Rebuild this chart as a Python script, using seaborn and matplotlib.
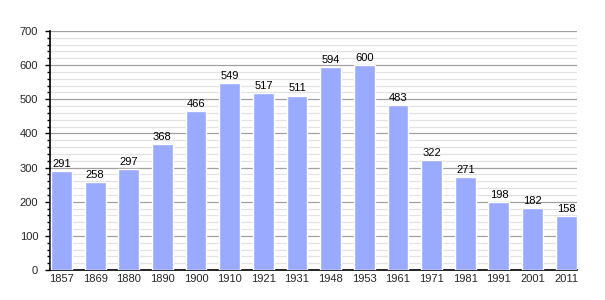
import matplotlib
matplotlib.use("Agg")
import matplotlib.pyplot as plt
import seaborn as sns
import pandas as pd
from matplotlib.ticker import MultipleLocator

years = ["1857", "1869", "1880", "1890", "1900", "1910", "1921", "1931",
         "1948", "1953", "1961", "1971", "1981", "1991", "2001", "2011"]
population = [291, 258, 297, 368, 466, 549, 517, 511,
              594, 600, 483, 322, 271, 198, 182, 158]

df = pd.DataFrame({"year": years, "pop": population})

sns.set_theme(style="white")
plt.rcParams['font.family'] = ['Liberation Sans', 'DejaVu Sans']

fig = plt.figure(figsize=(6.05, 3.0), dpi=100)
ax = fig.add_axes([50 / 605, 30 / 300, 527 / 605, 239 / 300])

sns.barplot(data=df, x="year", y="pop", color="#99aaff", saturation=1,
            width=0.62, ax=ax, zorder=3)

ax.set_ylim(0, 700)
ax.set_xlim(-0.34, 15.32)
ax.yaxis.set_major_locator(MultipleLocator(100))
ax.yaxis.set_minor_locator(MultipleLocator(20))
ax.grid(which="major", axis="y", color="#a0a0a0", linewidth=0.9, zorder=0)
ax.grid(which="minor", axis="y", color="#e2e2e2", linewidth=0.9, zorder=0)
ax.set_axisbelow(True)

for s in ["top", "right"]:
    ax.spines[s].set_visible(False)
ax.spines["left"].set_color("black")
ax.spines["bottom"].set_color("black")
ax.spines["left"].set_linewidth(1.2)
ax.spines["bottom"].set_linewidth(1.2)

ax.tick_params(axis="y", which="major", length=3.5, width=1, color="black",
               labelsize=8, pad=5, left=True)
ax.tick_params(axis="y", which="minor", length=2.2, width=1, color="black", left=True)
ax.tick_params(axis="x", length=0, labelsize=8, pad=3)
ax.set_xlabel("")
ax.set_ylabel("")

for i, v in enumerate(population):
    ax.text(i, v + 6, str(v), ha="center", va="bottom", fontsize=8, color="black")

fig.savefig("out.png", dpi=100)
